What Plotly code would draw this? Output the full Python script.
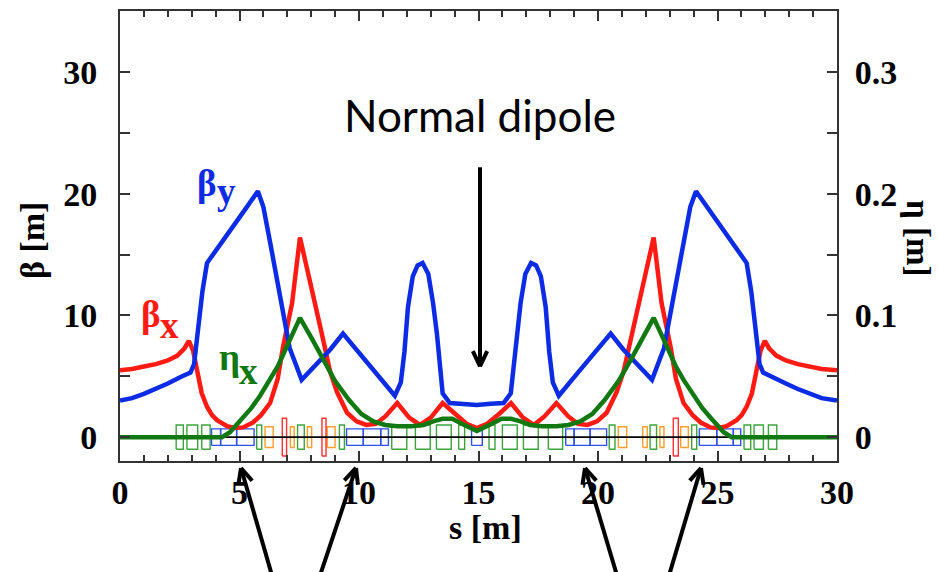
import math
import plotly.graph_objects as go

# ---------------- data ----------------
# beta_y (blue)
s_by = [0.0, 0.5, 1.0, 1.5, 2.0, 2.6, 2.95, 3.1, 3.25, 3.45, 3.64, 4.2, 4.7, 5.2, 5.77, 6.0, 6.3, 6.6, 7.1, 7.6,
        8.2, 8.8, 9.33, 10.0, 10.7, 11.5, 11.75, 11.9, 12.05, 12.25, 12.45, 12.66, 12.9, 13.1, 13.26, 13.5, 13.8,
        14.3, 14.93, 15.5, 16.05, 16.35, 16.6, 16.76, 16.96, 17.2, 17.41, 17.61, 17.81, 17.96, 18.11, 18.36,
        19.16, 19.86, 20.53, 21.06, 21.66, 22.26, 22.76, 23.26, 23.56, 23.86, 24.1, 24.66, 25.16, 25.66, 26.22,
        26.41, 26.61, 26.76, 26.91, 27.26, 27.86, 28.36, 28.86, 29.36, 30.0]
beta_y = [3.0, 3.2, 3.55, 3.95, 4.4, 5.0, 5.3, 6.0, 8.5, 12.0, 14.3, 15.8, 17.2, 18.6, 20.2, 18.9, 15.8, 12.6, 7.3, 4.7,
          6.0, 7.2, 8.5, 6.9, 5.3, 3.4, 4.5, 7.0, 10.7, 13.2, 14.1, 14.3, 13.4, 11.0, 8.5, 3.6, 2.8,
          2.75, 2.65, 2.75, 2.8, 3.6, 8.5, 11.0, 13.4, 14.3, 14.1, 13.2, 10.7, 7.0, 4.5, 3.4,
          5.3, 6.9, 8.5, 7.2, 6.0, 4.7, 7.3, 12.6, 15.8, 18.9, 20.2, 18.6, 17.2, 15.8, 14.3,
          12.0, 8.5, 6.0, 5.3, 5.0, 4.4, 3.95, 3.55, 3.2, 3.0]

# beta_x (red)
s_bx = [0.0, 0.5, 1.0, 1.5, 2.0, 2.4, 2.7, 2.88, 3.06, 3.2, 3.42, 3.64, 3.85, 4.06, 4.48, 4.8, 5.15, 5.56, 5.9,
        6.28, 6.6, 6.82, 7.2, 7.53, 7.9, 8.2, 8.5, 8.79, 9.08, 9.5, 9.9, 10.3, 10.7, 11.1, 11.6, 12.1, 12.55,
        13.0, 13.5, 14.0, 14.5, 14.93, 15.36, 15.86, 16.36, 16.86, 17.31, 17.76, 18.26, 18.76, 19.16, 19.56,
        19.96, 20.36, 20.78, 21.07, 21.36, 21.66, 21.96, 22.33, 22.66, 23.04, 23.26, 23.58, 23.96, 24.3, 24.71,
        25.06, 25.38, 25.8, 26.01, 26.22, 26.44, 26.66, 26.8, 26.98, 27.16, 27.46, 27.86, 28.36, 28.86, 29.36, 30.0]
beta_x = [5.5, 5.6, 5.8, 6.0, 6.3, 6.7, 7.3, 7.9, 7.1, 5.7, 3.6, 2.5, 1.8, 1.4, 0.9, 0.75, 0.8, 1.2, 1.8,
          2.8, 4.8, 7.4, 11.0, 16.4, 13.0, 10.6, 8.0, 5.4, 3.7, 2.0, 1.3, 1.0, 1.1, 1.7, 2.8, 1.6, 1.0,
          1.6, 2.8, 1.9, 1.1, 0.75, 1.1, 1.9, 2.8, 1.6, 1.0, 1.7, 2.8, 1.7, 1.1, 1.0,
          1.3, 2.0, 3.7, 5.4, 8.0, 10.6, 13.0, 16.4, 11.0, 7.4, 4.8, 2.8, 1.8, 1.2, 0.8,
          0.75, 0.9, 1.4, 1.8, 2.5, 3.6, 5.7, 7.1, 7.9, 7.3, 6.7, 6.3, 6.0, 5.8, 5.6, 5.5]

# eta_x (green), metres
s_eta = [0.0, 4.27, 4.6, 5.15, 5.5, 5.86, 6.28, 6.6, 6.97, 7.25, 7.53, 8.0, 8.5, 9.0, 9.6, 10.1, 10.6, 11.1,
         11.6, 12.2, 12.7, 13.1, 13.5, 13.9, 14.3, 14.93, 15.56, 15.96, 16.36, 16.76, 17.16, 17.66, 18.26,
         18.76, 19.26, 19.76, 20.26, 20.86, 21.36, 21.86, 22.33, 22.61, 22.89, 23.26, 23.58, 24.0, 24.36,
         24.71, 25.26, 25.59, 30.0]
eta_x = [0.0, 0.0, 0.004, 0.016, 0.024, 0.034, 0.047, 0.058, 0.074, 0.086, 0.098, 0.082, 0.063, 0.046, 0.030,
         0.019, 0.013, 0.010, 0.009, 0.009, 0.010, 0.013, 0.015, 0.015, 0.011, 0.005, 0.011, 0.015, 0.015,
         0.013, 0.010, 0.009, 0.009, 0.010, 0.013, 0.019, 0.030, 0.046, 0.063, 0.082, 0.098, 0.086, 0.074,
         0.058, 0.047, 0.034, 0.024, 0.016, 0.004, 0.0, 0.0]

# lattice elements (start, end) in s [m]
quads = [(2.35, 2.65), (2.8, 3.25), (3.42, 3.77), (5.72, 5.93), (7.43, 7.71), (9.18, 9.39),
         (11.37, 12.0), (12.36, 12.98), (13.24, 13.86), (14.17, 14.42), (15.44, 15.69), (16.0, 16.62),
         (16.88, 17.5), (17.92, 18.52), (20.47, 20.71), (22.18, 22.45), (23.92, 24.13),
         (26.11, 26.39), (26.53, 26.92), (27.13, 27.48)]
dipoles = [(3.83, 4.21), (4.21, 4.88), (4.88, 5.61), (9.48, 10.18), (10.18, 10.91), (10.91, 11.23),
           (14.71, 15.16), (18.65, 19.0), (19.0, 19.67), (19.67, 20.36),
           (24.24, 24.97), (24.97, 25.66), (25.66, 25.97)]
sextupoles = [(6.07, 6.41), (7.13, 7.29), (7.84, 8.02), (8.67, 9.0), (20.85, 21.2), (21.87, 22.06),
              (22.59, 22.76), (23.46, 23.78)]
correctors = [(6.79, 6.97), (8.45, 8.62), (23.15, 23.36)]

x_ticks = [0, 5, 10, 15, 20, 25, 30]
y_ticks = [0, 10, 20, 30]
y2_ticks = [0, 0.1, 0.2, 0.3]
y2_text = ["0", "0.1", "0.2", "0.3"]

# ---------------- styling ----------------
RED = "#ff1a14"
BLUE = "#0c2be4"
GREEN = "#127812"
SERIF = "Liberation Serif"
W, H = 939, 572
ML, MR, MT, MB = 120, 102, 9, 111
PW, PH = W - ML - MR, H - MT - MB


def P(px, py):
    return (px - ML) / PW, (H - MB - py) / PH


def boxes(elems, h):
    xs, ys = [], []
    for a, b in elems:
        xs += [a, b, b, a, a, None]
        ys += [-h, -h, h, h, -h, None]
    return xs, ys


fig = go.Figure()

for elems, h, col in [(quads, 1.0, "#3ca53c"), (dipoles, 0.68, "#3050ee"),
                      (sextupoles, 0.85, "#ff9d2e"), (correctors, 1.55, "#ff3030")]:
    xs, ys = boxes(elems, h)
    fig.add_trace(go.Scatter(x=xs, y=ys, mode="lines", line=dict(color=col, width=1.4),
                             showlegend=False, hoverinfo="skip"))

fig.add_trace(go.Scatter(x=[0, 30], y=[0, 0], mode="lines", line=dict(color="black", width=1.6),
                         showlegend=False, hoverinfo="skip"))
fig.add_trace(go.Scatter(x=s_bx, y=beta_x, mode="lines", line=dict(color=RED, width=4.5), showlegend=False))
fig.add_trace(go.Scatter(x=s_by, y=beta_y, mode="lines", line=dict(color=BLUE, width=4.5), showlegend=False))
fig.add_trace(go.Scatter(x=s_eta, y=eta_x, mode="lines", line=dict(color=GREEN, width=4.5),
                         yaxis="y2", showlegend=False))
fig.add_trace(go.Scatter(x=[0], y=[0], xaxis="x2", mode="markers", marker=dict(opacity=0),
                         showlegend=False, hoverinfo="skip"))

tickfont = dict(family=SERIF, size=34, color="black", weight="bold")
axline = dict(showline=True, linecolor="#333", linewidth=2, showgrid=False, zeroline=False)

fig.update_layout(
    width=W, height=H, margin=dict(l=ML, r=MR, t=MT, b=MB),
    paper_bgcolor="white", plot_bgcolor="white", showlegend=False,
    xaxis=dict(range=[0, 30], tickvals=x_ticks, ticks="inside", ticklen=10, tickwidth=1.5, tickcolor="#333",
               minor=dict(ticks="inside", dtick=1, ticklen=6, tickwidth=1.5, tickcolor="#333"),
               tickfont=tickfont, ticklabelstandoff=0, mirror=True, **axline),
    xaxis2=dict(range=[0, 30], overlaying="x", side="top", tickvals=x_ticks, ticks="inside", ticklen=10,
                tickwidth=1.5, tickcolor="#333", showticklabels=False,
                minor=dict(ticks="inside", dtick=1, ticklen=6, tickwidth=1.5, tickcolor="#333"), **axline),
    yaxis=dict(range=[-1.96, 35], tickvals=y_ticks, ticks="inside", ticklen=10, tickwidth=1.5, tickcolor="#333",
               minor=dict(ticks="inside", dtick=5, ticklen=10, tickwidth=1.5, tickcolor="#333"),
               tickfont=tickfont, ticklabelstandoff=14, mirror=True, **axline),
    yaxis2=dict(range=[-0.0196, 0.35], overlaying="y", side="right", tickvals=y2_ticks, ticktext=y2_text,
                ticks="inside", ticklen=10, tickwidth=1.5, tickcolor="#333",
                minor=dict(ticks="inside", dtick=0.05, ticklen=10, tickwidth=1.5, tickcolor="#333"),
                tickfont=tickfont, ticklabelstandoff=9, **axline),
)

anns = []


def text(px, py, t, size, color="black", family=SERIF, weight="bold", angle=0):
    x, y = P(px, py)
    anns.append(dict(x=x, y=y, xref="paper", yref="paper", text=t, showarrow=False, textangle=angle,
                     xanchor="center", yanchor="middle",
                     font=dict(family=family, size=size, color=color, weight=weight)))


text(33, 240, "β [m]", 34, angle=-90)
text(918, 237, "η [m]", 33, angle=90)
text(485, 528, "s [m]", 34)
text(480, 113, "Normal dipole", 44, family="Lato", weight="normal")
# curve labels
text(207, 182, "β", 37, color=BLUE)
text(226, 190, "y", 37, color=BLUE)
text(151, 314, "β", 37, color=RED)
text(169, 325, "x", 37, color=RED)
text(229, 357, "η", 37, color=GREEN)
text(248, 371, "x", 37, color=GREEN)
fig.update_layout(annotations=anns)

shapes = []


def seg(a, b):
    p0, p1 = P(*a), P(*b)
    shapes.append(dict(type="line", xref="paper", yref="paper", x0=p0[0], y0=p0[1], x1=p1[0], y1=p1[1],
                       line=dict(color="black", width=4), layer="above"))


def arrow(tail, tip, arm=17, ang=25):
    (x0, y0), (x1, y1) = tail, tip
    dx, dy = x1 - x0, y1 - y0
    L = math.hypot(dx, dy)
    ux, uy = dx / L, dy / L
    seg(tail, tip)
    for sgn in (1, -1):
        a = math.radians(sgn * ang)
        rx = ux * math.cos(a) - uy * math.sin(a)
        ry = ux * math.sin(a) + uy * math.cos(a)
        seg(tip, (x1 - arm * rx, y1 - arm * ry))


arrow((480, 166), (480, 366))
arrow((272, 576), (241, 468))
arrow((320, 576), (356, 468))
arrow((617, 576), (585, 468))
arrow((669, 576), (701, 468))
fig.update_layout(shapes=shapes)

fig.write_html("out.html")
